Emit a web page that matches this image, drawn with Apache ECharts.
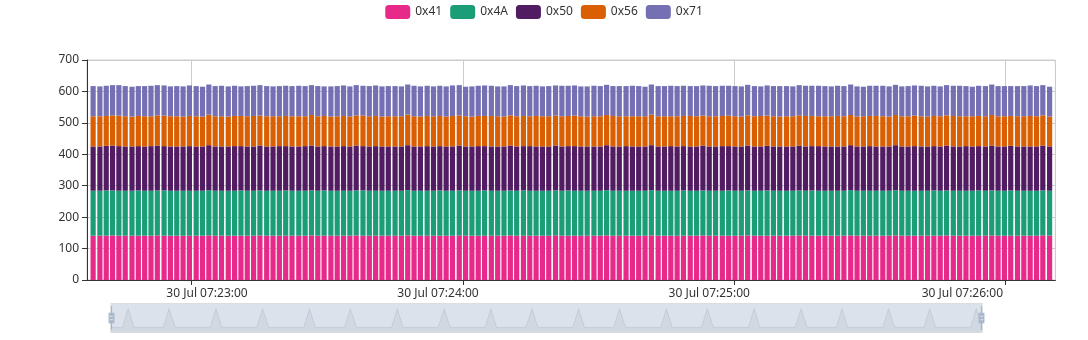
<!DOCTYPE html>
<html>
<head>
<meta charset="utf-8">
<script src="https://cdn.jsdelivr.net/npm/echarts@6/dist/echarts.min.js"></script>
<style>
html,body{margin:0;padding:0;background:#fff;}
#chart{width:1088px;height:340px;}
</style>
</head>
<body>
<div id="chart"></div>
<script>
// Seconds after 2024-07-30 07:22:37 UTC for each sample
const timeOffsets = [
1.2,2.7,4.1,5.5,6.9,8.3,9.8,11.2,12.6,14.0,
15.4,16.9,18.3,19.7,21.1,22.5,24.0,25.4,26.8,28.2,
29.6,31.1,32.5,33.9,35.3,36.7,38.1,39.6,41.0,42.4,
43.8,45.2,46.7,48.1,49.5,50.9,52.3,53.8,55.2,56.6,
58.0,59.4,60.9,62.3,63.7,65.1,66.5,68.0,69.4,70.8,
72.2,73.6,75.1,76.5,77.9,79.3,80.7,82.2,83.6,85.0,
86.4,87.8,89.3,90.7,92.1,93.5,94.9,96.4,97.8,99.2,
100.6,102.0,103.5,104.9,106.3,107.7,109.1,110.5,112.0,113.4,
114.8,116.2,117.6,119.1,120.5,121.9,123.3,124.7,126.2,127.6,
129.0,130.4,131.8,133.3,134.7,136.1,137.5,138.9,140.4,141.8,
143.2,144.6,146.0,147.5,148.9,150.3,151.7,153.1,154.6,156.0,
157.4,158.8,160.2,161.7,163.1,164.5,165.9,167.3,168.8,170.2,
171.6,173.0,174.4,175.9,177.3,178.7,180.1,181.5,182.9,184.4,
185.8,187.2,188.6,190.0,191.5,192.9,194.3,195.7,197.1,198.6,
200.0,201.4,202.8,204.2,205.7,207.1,208.5,209.9,211.3,212.8
];
// Visible axis range (seconds after 07:22:37), the range handed to the bar axis
// (ECharts widens a bar axis by one bar width), minute ticks and label anchors.
const axisRange = [-0.15, 214.08];
const barAxisRange = [0.43, 213.5];
const tickOffsets = [23, 83, 143, 203];            // 07:23:00 ... 07:26:00
const labelOffsets = [26.4, 77.5, 137.5, 193.5];   // where each tick label sits
const tickLabels = ['30 Jul 07:23:00', '30 Jul 07:24:00', '30 Jul 07:25:00', '30 Jul 07:26:00'];

const seriesNames = ['0x41','0x4A','0x50','0x56','0x71'];
const s41 = [
141,141,141,142,141,141,141,141,141,141,
142,141,141,141,141,141,141,141,142,141,
141,141,141,141,141,141,142,141,141,141,
141,141,141,141,142,141,141,141,141,141,
141,142,141,141,141,141,141,141,141,142,
141,141,141,141,141,141,141,142,141,141,
141,141,141,141,141,142,141,141,141,141,
141,141,142,141,141,141,141,141,141,141,
142,141,141,141,141,141,141,142,141,141,
141,141,141,141,141,142,141,141,141,141,
141,141,142,141,141,141,141,141,141,141,
142,141,141,141,141,141,141,141,142,141,
141,141,141,141,141,142,141,141,141,141,
141,141,141,142,141,141,141,141,141,141,
142,141,141,141,141,141,141,141,142,141
];
const s4A = [
143,143,144,143,143,143,143,144,143,143,
143,144,143,143,143,143,143,143,144,143,
143,143,143,144,143,143,143,143,143,143,
144,143,143,143,143,143,144,143,143,143,
143,143,144,143,143,143,143,143,143,144,
143,143,143,143,144,143,143,143,143,143,
143,144,143,143,143,143,143,144,143,143,
143,143,143,143,144,143,143,143,143,143,
144,143,143,143,143,143,143,144,143,143,
143,143,144,143,143,143,143,143,143,144,
143,143,143,143,143,144,143,143,143,143,
143,143,144,143,143,143,143,143,144,143,
143,143,143,143,143,144,143,143,143,143,
143,144,143,143,143,143,143,143,144,143,
143,143,143,144,143,143,143,143,143,143
];
const s50 = [
141,141,142,143,142,141,141,141,141,142,
143,141,141,141,141,142,141,141,143,141,
141,141,142,141,141,141,143,141,141,142,
141,141,141,142,143,141,141,141,141,142,
141,143,141,141,142,141,141,141,141,143,
141,141,142,141,141,141,141,143,141,141,
142,141,141,141,141,143,141,141,142,141,
141,141,143,141,141,142,141,141,141,141,
143,141,141,142,141,141,141,143,141,141,
142,141,141,141,141,143,141,141,142,141,
141,141,143,141,141,142,141,141,141,141,
143,141,141,142,141,141,141,141,143,141,
141,142,141,141,141,143,141,141,142,141,
141,141,141,143,141,141,142,141,141,141,
143,141,141,142,141,141,141,141,143,141
];
const s56 = [
96,96,95,96,97,96,95,96,96,95,
96,97,96,96,95,96,96,95,97,96,
96,95,96,96,96,97,95,96,96,95,
96,96,96,95,97,96,96,95,96,96,
95,96,97,96,96,95,96,96,96,97,
96,95,96,96,96,95,97,96,96,95,
96,96,97,96,95,96,96,96,95,97,
96,96,95,96,96,97,96,95,96,96,
96,97,96,95,96,96,96,97,96,96,
95,96,96,97,96,95,96,96,96,97,
96,95,96,96,97,96,96,95,96,96,
96,97,96,95,96,96,97,96,96,95,
96,96,97,96,95,96,96,96,97,96,
95,96,96,96,97,96,95,96,96,96,
97,96,96,95,96,96,97,96,96,95
];
const s71 = [
96,95,96,96,97,96,95,95,96,97,
96,96,95,96,96,97,96,95,96,96,
97,96,96,94,96,96,97,96,95,96,
96,96,97,96,95,96,94,96,96,97,
96,96,95,96,97,96,96,96,95,96,
97,96,96,95,96,96,97,96,94,96,
96,97,96,95,96,96,96,97,96,96,
95,96,96,97,96,96,95,96,97,96,
96,95,96,96,97,96,94,96,96,96,
97,96,96,95,96,96,97,96,96,95,
96,96,97,96,94,96,96,97,96,95,
96,96,96,97,96,95,96,96,97,96,
94,96,96,97,96,96,95,96,96,97,
96,96,95,96,96,97,96,94,96,96,
97,96,96,95,96,96,97,96,96,95
];
const seriesColors = ['#e7298a','#1b9e77','#521c63','#d95f02','#7570b3'];

const baseTime = Date.UTC(2024, 6, 30, 7, 22, 37);
const toTime = s => baseTime + Math.round(s * 1000);
const times = timeOffsets.map(toTime);
const allValues = [s41, s4A, s50, s56, s71];
const labelTimes = labelOffsets.map(toTime);
const tickTimes = tickOffsets.map(toTime);

function labelFor(v) {
  let best = 0;
  for (let i = 1; i < labelTimes.length; i++) {
    if (Math.abs(labelTimes[i] - v) < Math.abs(labelTimes[best] - v)) best = i;
  }
  return tickLabels[best];
}

const chart = echarts.init(document.getElementById('chart'));
const font = "'Noto Sans', sans-serif";
const handlePath = 'path://M8.2,13.6V3.9H6.3v9.7H3.1v14.9h3.3v9.7h1.8v-9.7h3.3V13.6H8.2z M9.7,24.4H4.8v-1.4h4.9V24.4z M9.7,19.1H4.8v-1.4h4.9V19.1z';
const shadowStyle = {
  lineStyle: { color: '#2f4554', width: 0.5, opacity: 0.3 },
  areaStyle: { color: 'rgba(47,69,84,0.3)', opacity: 0.3 }
};
chart.setOption({
  useUTC: true,
  animation: false,
  color: seriesColors,
  textStyle: { fontFamily: font },
  legend: {
    top: 0,
    itemWidth: 25, itemHeight: 14,
    textStyle: { color: '#333', fontSize: 12, fontFamily: font },
    data: seriesNames
  },
  grid: { left: '8%', right: '3%', top: 60, bottom: 60, show: true, borderColor: '#ccc', borderWidth: 1 },
  xAxis: [
    {
      type: 'time',
      min: toTime(barAxisRange[0]), max: toTime(barAxisRange[1]),
      minInterval: 60000, maxInterval: 60000,
      axisLine: { show: true, lineStyle: { color: '#333' } },
      axisTick: { show: false },
      axisLabel: { show: false },
      splitLine: { show: true, lineStyle: { color: '#ccc' } },
      minorTick: { show: false }
    },
    {
      type: 'value',
      position: 'bottom',
      min: toTime(axisRange[0]), max: toTime(axisRange[1]),
      scale: true,
      axisLine: { show: false },
      axisTick: { show: true, length: 5, lineStyle: { color: '#333' }, customValues: tickTimes },
      splitLine: { show: false },
      axisLabel: {
        color: '#333', fontSize: 12, fontFamily: font,
        customValues: labelTimes,
        hideOverlap: false,
        formatter: labelFor
      }
    }
  ],
  yAxis: {
    type: 'value',
    min: 0, max: 700, interval: 100,
    axisLine: { show: true, lineStyle: { color: '#333' } },
    axisTick: { show: true, lineStyle: { color: '#333' } },
    axisLabel: { color: '#333', fontSize: 12, fontFamily: font },
    splitLine: { show: true, lineStyle: { color: '#ccc' } }
  },
  dataZoom: [
    { type: 'inside', xAxisIndex: 0, start: 0, end: 100 },
    {
      type: 'slider', xAxisIndex: 0, start: 0, end: 100,
      left: 108, right: 108, top: 303, height: 30,
      showDetail: false,
      brushSelect: false,
      moveHandleSize: 0,
      backgroundColor: 'rgba(47,69,84,0)',
      fillerColor: 'rgba(167,183,204,0.4)',
      borderColor: '#ddd',
      borderRadius: 0,
      handleIcon: handlePath,
      handleSize: '80%',
      handleStyle: { color: '#a7b7cc', borderColor: '#a7b7cc', borderWidth: 0 },
      emphasis: { handleStyle: { color: '#a7b7cc', borderColor: '#a7b7cc' } },
      dataBackground: shadowStyle,
      selectedDataBackground: shadowStyle
    }
  ],
  series: seriesNames.map((name, k) => ({
    name: name,
    type: 'bar',
    stack: 'total',
    xAxisIndex: 0,
    barWidth: 5.2,
    data: times.map((t, i) => [t, allValues[k][i]])
  }))
});
</script>
</body>
</html>
